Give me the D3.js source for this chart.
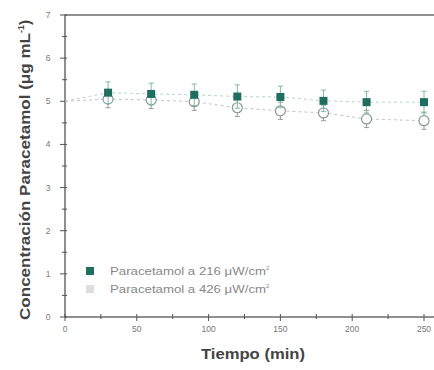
<!DOCTYPE html>
<html>
<head>
<meta charset="utf-8">
<script src="https://cdn.jsdelivr.net/npm/d3@7"></script>
<style>
  body { margin: 0; background: #fff; }
  svg { display: block; font-family: "Liberation Sans", Arial, sans-serif; }
  .tick-label { font-size: 8.5px; fill: #777; }
  .axis-title { font-weight: bold; fill: #444; }
  .legend-text { font-size: 10px; fill: #888; }
</style>
</head>
<body>
<svg width="434" height="370"></svg>
<script>
// time points (min)
var tiempos = [0, 30, 60, 90, 120, 150, 180, 210, 250];
// concentration, ug/mL
var conc216 = [5.0, 5.20, 5.17, 5.15, 5.11, 5.10, 5.01, 4.98, 4.98];
var err216  = [0, 0.25, 0.25, 0.25, 0.27, 0.25, 0.25, 0.25, 0.25];
var conc426 = [5.0, 5.05, 5.03, 4.99, 4.85, 4.78, 4.73, 4.59, 4.55];
var err426  = [0, 0.2, 0.2, 0.2, 0.2, 0.2, 0.18, 0.2, 0.2];

var xTicks = [0, 50, 100, 150, 200, 250];
var yTicks = [0, 1, 2, 3, 4, 5, 6, 7];
var legendLabels = ["Paracetamol a 216 \u03bcW/cm", "Paracetamol a 426 \u03bcW/cm"];

var svg = d3.select("svg");

var x = d3.scaleLinear().domain([0, 250]).range([65, 424]);
var y = d3.scaleLinear().domain([0, 7]).range([317, 15]);

var series = [
	{ vals: conc216, errs: err216, filled: true },
	{ vals: conc426, errs: err426, filled: false }
];

// frame (right side runs past the window)
svg.append("rect")
	.attr("x", x(0)).attr("y", y(7))
	.attr("width", 400).attr("height", y(0) - y(7))
	.attr("fill", "none").attr("stroke", "#555").attr("stroke-width", 1.3);

// x ticks
var xMinor = d3.range(0, 251, 25);
svg.append("g").selectAll("line").data(xMinor).enter().append("line")
	.attr("x1", function (d) { return x(d); })
	.attr("x2", function (d) { return x(d); })
	.attr("y1", y(0) - 3)
	.attr("y2", function (d) { return d % 50 == 0 ? y(0) + 4 : y(0) + 2; })
	.attr("stroke", "#555");
svg.append("g").selectAll("text").data(xTicks).enter().append("text")
	.attr("class", "tick-label")
	.attr("x", function (d) { return x(d); })
	.attr("y", y(0) + 15)
	.attr("text-anchor", "middle")
	.text(function (d) { return d; });

// y ticks
var yMinor = d3.range(0, 7.01, 0.5);
svg.append("g").selectAll("line").data(yMinor).enter().append("line")
	.attr("y1", function (d) { return y(d); })
	.attr("y2", function (d) { return y(d); })
	.attr("x1", function (d) { return d % 1 == 0 ? x(0) - 5 : x(0) - 3; })
	.attr("x2", x(0) + 2)
	.attr("stroke", "#555");
svg.append("g").selectAll("text").data(yTicks).enter().append("text")
	.attr("class", "tick-label")
	.attr("x", x(0) - 17)
	.attr("y", function (d) { return y(d) + 3; })
	.attr("text-anchor", "middle")
	.text(function (d) { return d; });

// axis titles
svg.append("text")
	.attr("class", "axis-title")
	.attr("font-size", 14)
	.attr("x", 201)
	.attr("y", 359)
	.attr("textLength", 104)
	.attr("lengthAdjust", "spacingAndGlyphs")
	.text("Tiempo (min)");

var yt = svg.append("text")
	.attr("class", "axis-title")
	.attr("font-size", 15.5)
	.attr("transform", "translate(30,320) rotate(-90)");
yt.append("tspan").attr("textLength", 287).attr("lengthAdjust", "spacingAndGlyphs")
	.text("Concentración Paracetamol (\u03bcg mL");
yt.append("tspan").attr("dy", -6).attr("font-size", 9).text("-1");
yt.append("tspan").attr("dy", 6).text(")");

// lines
var line = d3.line()
	.x(function (d, i) { return x(tiempos[i]); })
	.y(function (d) { return d; });

series.forEach(function (s) {
	var pts = s.vals.map(function (v) { return y(v); });
	svg.append("path")
		.attr("d", line(pts))
		.attr("fill", "none")
		.attr("stroke", s.filled ? "#b2d6cd" : "#c4c4c4")
		.attr("stroke-width", 1)
		.attr("stroke-dasharray", "3,3");
});

// error bars + markers (open series first, filled on top)
[series[1], series[0]].forEach(function (s) {
	var g = svg.append("g");
	var col = s.filled ? "#7fb8ab" : "#999";
	s.vals.forEach(function (v, i) {
		if (s.errs[i] == 0) return;
		var cx = x(tiempos[i]);
		var top = y(v + s.errs[i]), bot = y(v - s.errs[i]);
		g.append("line").attr("x1", cx).attr("x2", cx).attr("y1", top).attr("y2", bot)
			.attr("stroke", col).attr("stroke-width", 1);
		g.append("line").attr("x1", cx - 2.5).attr("x2", cx + 2.5).attr("y1", top).attr("y2", top)
			.attr("stroke", col);
		g.append("line").attr("x1", cx - 2.5).attr("x2", cx + 2.5).attr("y1", bot).attr("y2", bot)
			.attr("stroke", col);
		if (s.filled) {
			g.append("rect")
				.attr("x", cx - 4).attr("y", y(v) - 4)
				.attr("width", 8).attr("height", 8)
				.attr("fill", "#1f6e5e");
		} else {
			g.append("circle")
				.attr("cx", cx).attr("cy", y(v)).attr("r", 5)
				.attr("fill", "#fff").attr("stroke", "#8a9a96").attr("stroke-width", 1.2);
		}
	});
});

// legend
var leg = svg.append("g");
legendLabels.forEach(function (lab, i) {
	var ly = 271 + i * 18;
	leg.append("rect").attr("x", 86).attr("y", ly - 4).attr("width", 8).attr("height", 8)
		.attr("fill", i == 0 ? "#1f6e5e" : "#ddd");
	var t = leg.append("text").attr("class", "legend-text").attr("x", 110).attr("y", ly + 3.5);
	t.append("tspan").attr("textLength", 156).attr("lengthAdjust", "spacingAndGlyphs").text(lab);
	t.append("tspan").attr("dy", -5).attr("font-size", 6).text("2");
});
</script>
</body>
</html>
